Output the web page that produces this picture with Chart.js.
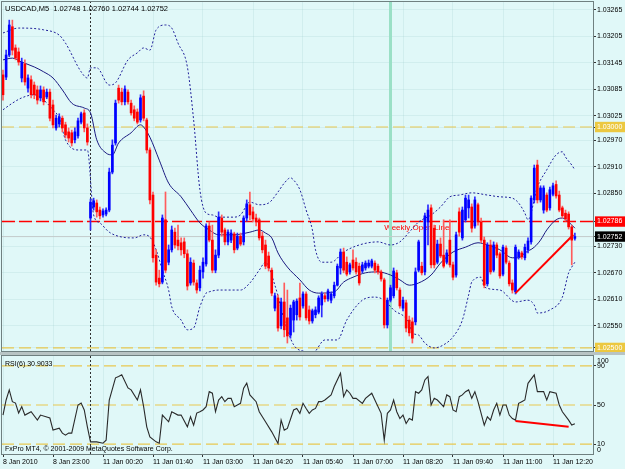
<!DOCTYPE html>
<html>
<head>
<meta charset="utf-8">
<script src="https://cdn.jsdelivr.net/npm/chart.js@4.4.1/dist/chart.umd.min.js"></script>
<style>
  html, body { margin: 0; padding: 0; background: #e0f8f8; }
  #wrap { position: relative; width: 625px; height: 469px; overflow: hidden; background: #e0f8f8; }
  #main { position: absolute; left: 0; top: 0; }
  #sep { position: absolute; left: 0; top: 352px; width: 625px; height: 3px; background: #b8c4c4; }
  #rsi { position: absolute; left: 0; top: 353px; }
</style>
</head>
<body>
<div id="wrap">
  <canvas id="main" width="625" height="353"></canvas>
  <div id="sep"></div>
  <canvas id="rsi" width="625" height="116"></canvas>
</div>
<script>
// USDCAD M5, 8 Jan 21:40 .. 11 Jan 12:55, prices in points (1e-5)
const symbol = 'USDCAD,M5';

const timeLabels = ['8 Jan 2010', '8 Jan 23:00', '11 Jan 00:20', '11 Jan 01:40', '11 Jan 03:00', '11 Jan 04:20',
  '11 Jan 05:40', '11 Jan 07:00', '11 Jan 08:20', '11 Jan 09:40', '11 Jan 11:00', '11 Jan 12:20'];
const timeTickBars = [0, 16, 32, 48, 64, 80, 96, 112, 128, 144, 160, 176];

const priceTicks = [1.03265, 1.03205, 1.03145, 1.03085, 1.03025, 1.03000, 1.02970, 1.02910, 1.02850,
  1.02786, 1.02752, 1.02730, 1.02670, 1.02610, 1.02550, 1.02500];

const openPts = [
  103118,103113,103163,103227,103179,103170,103111,103143,103088,103107,103095,103084,103066,103084,103068,103079,
  103050,102998,103007,103020,103005,102989,102987,102971,102980,103011,103032,102998,102794,102819,102828,102812,
  102801,102803,102812,102898,102964,103088,103079,103057,103079,103054,103039,103034,103016,103070,103016,102948,
  102846,102710,102658,102649,102790,102694,102722,102762,102744,102738,102740,102713,102647,102692,102647,102636,
  102672,102690,102776,102744,102676,102710,102794,102767,102740,102744,102758,102726,102753,102740,102794,102824,
  102808,102794,102790,102753,102733,102708,102676,102590,102613,102550,102604,102568,102529,102563,102575,102613,
  102595,102622,102586,102561,102575,102581,102597,102618,102611,102608,102618,102642,102681,102717,102694,102672,
  102699,102694,102685,102674,102681,102685,102685,102692,102685,102672,102654,102552,102608,102618,102670,102631,
  102590,102602,102563,102559,102559,102676,102685,102672,102785,102817,102771,102694,102735,102710,102694,102744,
  102688,102665,102808,102749,102790,102817,102819,102776,102824,102785,102744,102645,102733,102676,102733,102713,
  102667,102726,102692,102647,102627,102706,102715,102704,102722,102740,102835,102914,102835,102812,102846,102817,
  102848,102870,102846,102817,102805,102803,102774,102748];
const highPts = [
  103129,103174,103242,103242,103186,103179,103156,103152,103118,103116,103102,103093,103093,103091,103086,103086,
  103061,103027,103030,103025,103011,102998,102993,102998,103020,103034,103039,103007,102837,102839,102835,102819,
  102815,102817,102907,102971,103061,103095,103088,103093,103084,103061,103048,103041,103073,103082,103020,102953,
  102853,102722,102676,102801,102853,102733,102776,102771,102778,102749,102749,102722,102704,102699,102654,102685,
  102704,102781,102785,102778,102722,102808,102801,102771,102767,102767,102762,102760,102760,102799,102835,102853,
  102819,102803,102794,102762,102744,102717,102681,102624,102620,102613,102647,102631,102597,102608,102611,102647,
  102627,102627,102595,102588,102593,102618,102627,102624,102633,102627,102649,102690,102724,102726,102706,102692,
  102722,102704,102692,102694,102697,102699,102701,102697,102690,102676,102658,102613,102642,102681,102676,102636,
  102615,102608,102572,102568,102681,102744,102694,102805,102824,102824,102778,102744,102749,102790,102722,102790,
  102694,102762,102817,102819,102846,102846,102826,102842,102828,102794,102751,102738,102744,102740,102738,102717,
  102733,102731,102697,102654,102733,102722,102719,102735,102749,102844,102914,102925,102867,102867,102851,102864,
  102873,102878,102855,102821,102812,102808,102778,102760];
const lowPts = [
  103061,103107,103159,103163,103152,103140,103102,103095,103079,103066,103064,103052,103059,103050,103064,103014,
  102998,102993,103000,102989,102975,102966,102957,102964,102975,103007,102989,102959,102767,102812,102796,102792,
  102796,102799,102808,102894,102959,103054,103050,103050,103052,103027,103014,103007,103011,103014,102941,102826,
  102694,102642,102638,102645,102670,102688,102717,102726,102722,102710,102704,102631,102642,102642,102624,102629,
  102658,102685,102740,102670,102670,102704,102753,102733,102733,102738,102715,102722,102731,102733,102787,102790,
  102785,102776,102744,102715,102679,102674,102618,102584,102538,102543,102525,102511,102522,102536,102563,102563,
  102590,102563,102554,102556,102568,102577,102570,102604,102606,102602,102613,102640,102667,102670,102663,102667,
  102676,102667,102642,102670,102676,102681,102681,102670,102667,102651,102545,102545,102604,102613,102631,102590,
  102584,102536,102527,102511,102552,102672,102665,102665,102733,102681,102681,102690,102704,102681,102690,102683,
  102654,102660,102753,102744,102785,102794,102762,102771,102778,102738,102636,102640,102667,102672,102704,102658,
  102663,102690,102640,102624,102622,102701,102701,102699,102715,102735,102828,102828,102830,102805,102808,102812,
  102844,102839,102808,102794,102787,102769,102688,102744];
const closePts = [
  103073,103163,103231,103174,103156,103147,103147,103102,103111,103073,103073,103061,103084,103057,103079,103020,
  103005,103020,103023,102998,102982,102975,102964,102989,103014,103030,102998,102966,102830,102833,102808,102799,
  102810,102812,102898,102959,103054,103061,103057,103086,103057,103032,103020,103011,103066,103020,102948,102835,
  102704,102649,102645,102794,102676,102722,102767,102733,102731,102722,102713,102640,102694,102649,102631,102676,
  102694,102776,102744,102676,102710,102796,102762,102740,102762,102760,102722,102753,102735,102794,102826,102801,
  102792,102785,102749,102722,102685,102681,102624,102618,102545,102604,102541,102527,102590,102604,102606,102570,
  102622,102568,102561,102584,102586,102613,102622,102611,102629,102622,102642,102685,102717,102676,102667,102688,
  102681,102672,102647,102688,102692,102692,102697,102676,102672,102656,102552,102608,102636,102674,102636,102595,
  102608,102545,102534,102522,102672,102740,102670,102799,102812,102688,102688,102735,102708,102685,102715,102688,
  102660,102756,102762,102812,102839,102835,102771,102835,102785,102744,102642,102733,102672,102733,102710,102663,
  102728,102694,102645,102631,102728,102717,102706,102728,102742,102839,102907,102835,102862,102862,102812,102858,
  102867,102844,102812,102799,102792,102774,102744,102752];

// Bollinger bands and moving average, [bar, points]
const upperBand = [[0,103213],[5,103224],[13,103220],[18,103208],[20,103190],[25,103125],[27,103111],[28,103134],
  [30,103134],[34,103095],[36,103100],[40,103152],[43,103168],[45,103179],[47,103174],[49,103220],[52,103231],
  [54,103224],[56,103190],[59,103136],[61,103016],[63,102858],[65,102805],[67,102801],[69,102796],[74,102796],
  [76,102801],[79,102830],[82,102824],[85,102828],[88,102853],[90,102873],[92,102885],[93,102880],[95,102858],
  [97,102812],[99,102767],[100,102722],[102,102694],[105,102694],[109,102717],[114,102733],[120,102740],[124,102733],
  [127,102740],[130,102762],[133,102785],[137,102801],[140,102819],[143,102842],[146,102846],[150,102851],[155,102846],
  [159,102842],[163,102839],[165,102828],[167,102805],[168,102790],[171,102864],[174,102903],[177,102937],[179,102944],
  [180,102932],[182,102914],[183,102903]];
const lowerBand = [[0,103039],[3,103054],[6,103066],[10,103073],[13,103061],[16,103039],[18,103020],[20,102971],
  [24,102948],[27,102948],[29,102801],[31,102783],[34,102762],[38,102751],[42,102749],[45,102756],[47,102751],
  [49,102722],[51,102676],[53,102631],[54,102593],[57,102563],[59,102541],[61,102545],[63,102593],[65,102624],
  [66,102627],[69,102631],[76,102631],[79,102647],[82,102676],[84,102694],[87,102642],[90,102563],[93,102507],
  [97,102491],[99,102488],[103,102518],[107,102518],[110,102563],[115,102608],[119,102615],[122,102608],[125,102586],
  [130,102556],[131,102534],[133,102529],[135,102511],[138,102500],[141,102507],[144,102525],[147,102563],[149,102620],
  [150,102649],[153,102660],[154,102638],[159,102631],[164,102604],[168,102608],[170,102597],[171,102579],[175,102586],
  [179,102615],[181,102670],[182,102683],[183,102694]];
const movingAvg = [[0,103152],[3,103156],[6,103147],[10,103136],[13,103125],[16,103111],[19,103084],[22,103054],
  [26,103043],[28,103032],[30,102971],[33,102941],[35,102937],[37,102964],[41,102987],[44,103005],[45,103000],
  [47,102977],[50,102925],[53,102873],[57,102842],[60,102812],[63,102783],[66,102767],[69,102756],[74,102756],
  [79,102762],[82,102767],[84,102760],[86,102749],[88,102715],[91,102683],[95,102654],[98,102631],[101,102624],
  [106,102627],[109,102649],[112,102660],[116,102670],[120,102672],[124,102665],[127,102654],[130,102642],[133,102647],
  [137,102665],[140,102692],[144,102717],[148,102728],[152,102738],[155,102733],[159,102722],[163,102704],[165,102704],
  [167,102715],[170,102728],[172,102744],[174,102767],[177,102790],[179,102794],[181,102785],[183,102771]];

// RSI(6), [bar, value]
const rsiLine = [[0,39.7],[1,55.1],[2,65.4],[3,53.4],[4,52],[5,41.8],[6,48.3],[7,39.7],[9,43.1],[11,34.6],[12,39.7],
  [15,36.7],[16,24.4],[18,26.4],[19,21.3],[20,19.2],[21,21.3],[22,21.3],[24,50],[25,52],[26,44.9],[27,27.7],[28,12.4],
  [30,12.4],[32,11],[33,14.1],[34,55.1],[36,77.7],[37,79],[38,80.8],[40,67.4],[41,65.4],[43,55.1],[44,65.4],[45,48.3],
  [46,27.7],[47,17.5],[49,12.4],[50,11],[51,39.7],[53,32.9],[54,43.1],[56,39.7],[57,39.7],[59,27.7],[60,38],[61,29.5],
  [62,41.8],[63,43.1],[64,44.9],[65,48.3],[66,63.6],[67,62],[68,43.1],[69,55.1],[70,58.5],[71,53.4],[72,56.8],
  [73,56.8],[74,48.3],[75,50],[76,51.7],[77,67.1],[78,72.3],[79,60.3],[81,53.4],[82,43.1],[84,32.9],[86,22.6],
  [88,10.7],[89,34.6],[90,24.4],[91,26.1],[93,44.9],[94,46.5],[95,41.5],[96,51.8],[97,46.5],[98,41.5],[99,44.9],
  [100,46.5],[101,53.4],[102,53.4],[103,55.1],[105,60.3],[106,68.8],[108,82.5],[109,58.5],[110,65.4],[111,62],
  [112,56.8],[113,56.8],[115,51.7],[116,56.8],[118,62],[119,55.1],[121,41.5],[122,14.1],[123,41.5],[124,44.9],
  [125,55.1],[126,43.1],[127,36.2],[128,39.7],[129,31.1],[130,36.2],[131,34.6],[132,63.6],[133,62],[134,65.4],
  [135,75.6],[136,79],[137,50],[138,56.8],[139,55.1],[141,48.3],[142,60.3],[143,58.5],[144,44.9],[145,43.1],
  [146,58.5],[147,60.3],[148,63.6],[149,65.4],[150,56.8],[151,63.6],[152,53.4],[153,41.5],[154,29.5],[155,38],
  [156,34.6],[157,44.9],[158,51.7],[159,39.7],[160,50],[161,50],[162,39.7],[163,36.2],[164,34.6],[165,51.7],
  [166,53.4],[167,55.1],[168,72.1],[170,80.8],[171,63.6],[172,63.6],[173,63.6],[174,55.1],[175,63.6],[177,62],
  [178,50],[179,43.1],[181,34.6],[182,29.5],[183,30.9]];
const rsiCurrent = 30.9033;
const rsiTicks = [10, 50, 90];
const rsiBounds = [0, 100];
const rsiLevels = [90, 50, 10];

// levels and objects on the chart
const roundLevels = [1.03000, 1.02500];
const weeklyOpen = 1.02786;
const weeklyLabelBar = 122;
const bidPrice = 1.02752;
const dayStartBar = 28;
const sessionBar = 124;
const priceTrend = [[164, 1.02624], [182.5, 1.02756]];
const rsiTrend = [[164, 33.6], [181, 27.7]];

// view range
const yMin = 1.02493, yMax = 1.03283;
const xMin = -0.32, xMax = 188.8;

Chart.defaults.font.family = '"Liberation Sans", Arial, sans-serif';
Chart.defaults.color = '#000';

const P = v => v / 100000;
const bars = openPts.map((o, i) => ({ x: i, o: P(o), h: P(highPts[i]), l: P(lowPts[i]), c: P(closePts[i]) }));
const isUp = b => b.c >= b.o;
const toXY = (arr, f) => arr.map(([x, y]) => ({ x: x, y: f(y) }));
const near = (a, b) => Math.abs(a - b) < 1e-7;
const marked = v => [weeklyOpen, bidPrice].concat(roundLevels).some(m => near(m, v));

function hLine(v, color, width, dash, order) {
  return { type: 'line', data: [{ x: xMin, y: v }, { x: xMax, y: v }], borderColor: color, borderWidth: width,
    borderDash: dash, pointRadius: 0, order: order };
}
function vLine(x, lo, hi, color, width, dash, order) {
  return { type: 'line', data: [{ x: x, y: lo }, { x: x, y: hi }], borderColor: color, borderWidth: width,
    borderDash: dash, pointRadius: 0, order: order };
}

function fixAxis(w, h) {
  return s => {
    if (w !== null) s.width = w;
    if (h !== null) s.height = h;
    s.paddingTop = 0; s.paddingBottom = 0; s.paddingLeft = 0; s.paddingRight = 0;
  };
}

function decor(backTexts, frontTexts) {
  const put = (ctx, t) => {
    ctx.save();
    ctx.font = t.font;
    ctx.fillStyle = t.color;
    ctx.textBaseline = t.base || 'middle';
    ctx.textAlign = 'left';
    ctx.fillText(t.text, t.x, t.y);
    ctx.restore();
  };
  return {
    id: 'decor',
    beforeDatasetsDraw(chart) {
      backTexts.forEach(f => put(chart.ctx, f(chart)));
    },
    afterDraw(chart) {
      const ctx = chart.ctx, a = chart.chartArea;
      ctx.save();
      ctx.strokeStyle = '#6f8080';
      ctx.lineWidth = 1;
      ctx.strokeRect(a.left - 0.5, a.top - 0.5, a.right - a.left + 1, a.bottom - a.top + 1);
      ctx.restore();
      frontTexts.forEach(f => put(chart.ctx, f(chart)));
    }
  };
}

const faintGrid = 'rgba(120,175,175,0.14)';

// ---------- main price window ----------
const lastBar = bars[bars.length - 1];
const titleText = symbol + '  ' + [lastBar.o, lastBar.h, lastBar.l, lastBar.c].map(v => v.toFixed(5)).join(' ');

const mainChart = new Chart(document.getElementById('main'), {
  type: 'bar',
  data: {
    datasets: [
      vLine(sessionBar, yMin, yMax, '#9ae0c6', 3, [], 30),
      vLine(dayStartBar, yMin, yMax, '#303030', 1, [2, 2], 29),
      hLine(roundLevels[0], '#e8c850', 1.2, [12, 5], 28),
      hLine(roundLevels[1], '#e8c850', 1.2, [12, 5], 27),
      hLine(weeklyOpen, '#ff0000', 1.5, [13, 4], 26),
      hLine(bidPrice, '#c4cccc', 1, [], 25),
      { type: 'line', data: toXY(upperBand, P), borderColor: '#20209a', borderWidth: 1, borderDash: [2, 2],
        pointRadius: 0, tension: 0.3, cubicInterpolationMode: 'monotone', order: 12 },
      { type: 'line', data: toXY(lowerBand, P), borderColor: '#20209a', borderWidth: 1, borderDash: [2, 2],
        pointRadius: 0, tension: 0.3, cubicInterpolationMode: 'monotone', order: 11 },
      { type: 'line', data: toXY(movingAvg, P), borderColor: '#1a1a80', borderWidth: 1,
        pointRadius: 0, tension: 0.3, cubicInterpolationMode: 'monotone', order: 10 },
      { type: 'bar', data: bars.map(b => ({ x: b.x, y: [b.l, b.h] })),
        backgroundColor: bars.map(b => isUp(b) ? '#2a2aff' : '#ff5c5c'),
        barThickness: 1, grouped: false, order: 5 },
      { type: 'bar', data: bars.map(b => ({ x: b.x, y: [b.o, b.c] })),
        backgroundColor: bars.map(b => isUp(b) ? '#0000ff' : '#ff0000'),
        barThickness: 2, minBarLength: 1, grouped: false, order: 4 },
      { type: 'line', data: priceTrend.map(([x, y]) => ({ x, y })), borderColor: '#ff0000', borderWidth: 2,
        pointRadius: 0, order: 1 }
    ]
  },
  options: {
    responsive: false,
    animation: false,
    devicePixelRatio: 1,
    layout: { padding: { left: 2, top: 2, right: 0, bottom: 2 } },
    plugins: { legend: { display: false }, tooltip: { enabled: false } },
    scales: {
      x: {
        type: 'linear', min: xMin, max: xMax, offset: false,
        grid: { offset: false, color: faintGrid, drawTicks: false },
        border: { display: false },
        ticks: { display: false },
        afterBuildTicks: s => { s.ticks = timeTickBars.map(v => ({ value: v })); },
        afterFit: fixAxis(null, 0)
      },
      y: {
        type: 'linear', position: 'right', min: yMin, max: yMax,
        grid: { color: faintGrid, tickColor: '#333', tickLength: 3 },
        border: { display: false },
        ticks: {
          font: { size: 7 }, padding: 1, autoSkip: false,
          callback: v => v.toFixed(5),
          showLabelBackdrop: c => marked(c.tick.value),
          backdropColor: c => {
            const v = c.tick.value;
            if (near(v, weeklyOpen)) return '#ff0000';
            if (near(v, bidPrice)) return '#000000';
            return '#ecc840';
          },
          backdropPadding: { left: 2, right: 3, top: 1, bottom: 1 },
          color: c => marked(c.tick.value) ? '#ffffff' : '#000000'
        },
        afterBuildTicks: s => { s.ticks = priceTicks.map(v => ({ value: v })); },
        afterFit: fixAxis(32, null)
      }
    }
  },
  plugins: [decor(
    [c => ({ text: 'Weekly Open Line', font: '8px "Liberation Sans"', color: '#ff0000', base: 'top',
      x: c.scales.x.getPixelForValue(weeklyLabelBar), y: c.scales.y.getPixelForValue(weeklyOpen) + 2 })],
    [c => ({ text: titleText, font: '7.5px "Liberation Sans"', color: '#000', x: 5, y: 9 })]
  )]
});

// ---------- RSI window ----------
const rsiChart = new Chart(document.getElementById('rsi'), {
  type: 'line',
  data: {
    datasets: rsiLevels.map((v, i) => hLine(v, '#e8c850', 1.2, [12, 5], 20 + i)).concat([
      vLine(dayStartBar, 0, 100, '#303030', 1, [2, 2], 15),
      { data: toXY(rsiLine, v => v), borderColor: '#2a2a2a', borderWidth: 1.1, pointRadius: 0, tension: 0, order: 5 },
      { data: rsiTrend.map(([x, y]) => ({ x, y })), borderColor: '#ff0000', borderWidth: 2, pointRadius: 0, order: 1 }
    ])
  },
  options: {
    responsive: false,
    animation: false,
    devicePixelRatio: 1,
    layout: { padding: { left: 2, top: 3, right: 0, bottom: 0 } },
    plugins: { legend: { display: false }, tooltip: { enabled: false } },
    scales: {
      x: {
        type: 'linear', min: xMin, max: xMax, offset: false,
        grid: { color: faintGrid, tickColor: '#333', tickLength: 3 },
        border: { display: false },
        ticks: { font: { size: 7 }, padding: 1, align: 'start', autoSkip: false, maxRotation: 0, minRotation: 0,
          callback: (v, i) => timeLabels[i] },
        afterBuildTicks: s => { s.ticks = timeTickBars.map(v => ({ value: v })); },
        afterFit: fixAxis(null, 15)
      },
      y: {
        type: 'linear', position: 'right', min: 0, max: 100,
        grid: { drawOnChartArea: false, tickColor: '#333', tickLength: 3 },
        border: { display: false },
        ticks: { font: { size: 7 }, padding: 1, autoSkip: false, callback: v => String(v) },
        afterBuildTicks: s => { s.ticks = rsiTicks.map(v => ({ value: v })); },
        afterFit: fixAxis(32, null)
      }
    }
  },
  plugins: [decor(
    [],
    [
      c => ({ text: 'RSI(6) ' + rsiCurrent.toFixed(4), font: '7px "Liberation Sans"', color: '#000', x: 5, y: 11 }),
      c => ({ text: 'FxPro MT4, \u00a9 2001-2009 MetaQuotes Software Corp.', font: '7px "Liberation Sans"', color: '#000', x: 5, y: 96 }),
      // window bounds, written just inside the pane as the terminal does
      c => ({ text: String(rsiBounds[1]), font: '7px "Liberation Sans"', color: '#000',
        x: c.chartArea.right + 4, y: c.scales.y.getPixelForValue(rsiBounds[1]) + 5 }),
      c => ({ text: String(rsiBounds[0]), font: '7px "Liberation Sans"', color: '#000',
        x: c.chartArea.right + 4, y: c.scales.y.getPixelForValue(rsiBounds[0]) - 4 })
    ]
  )]
});
</script>
</body>
</html>
